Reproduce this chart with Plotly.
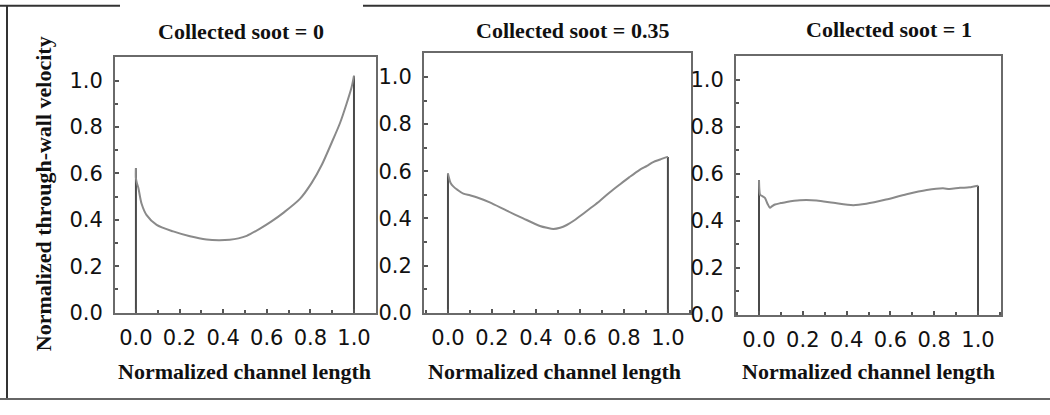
import plotly.graph_objects as go

W, H = 1050, 415

# ---- data ----
x_soot0 = [0.0, 0.0, 0.004, 0.011, 0.026, 0.049, 0.095, 0.171, 0.248, 0.324, 0.38, 0.43, 0.47, 0.508, 0.569, 0.62, 0.676, 0.752, 0.806, 0.852, 0.898, 0.936, 0.966, 0.989, 1.0]
y_soot0 = [0.622, 0.58, 0.56, 0.538, 0.469, 0.42, 0.378, 0.35, 0.329, 0.315, 0.312, 0.314, 0.32, 0.331, 0.362, 0.392, 0.43, 0.49, 0.559, 0.636, 0.733, 0.817, 0.90, 0.971, 1.02]

x_soot035 = [0.0, 0.004, 0.012, 0.024, 0.045, 0.07, 0.10, 0.13, 0.19, 0.267, 0.342, 0.418, 0.45, 0.479, 0.51, 0.54, 0.575, 0.615, 0.65, 0.69, 0.735, 0.78, 0.825, 0.87, 0.905, 0.933, 0.965, 0.994, 1.0]
y_soot035 = [0.59, 0.575, 0.55, 0.536, 0.52, 0.505, 0.498, 0.49, 0.468, 0.433, 0.40, 0.368, 0.36, 0.355, 0.36, 0.372, 0.392, 0.42, 0.445, 0.474, 0.51, 0.543, 0.575, 0.605, 0.623, 0.639, 0.65, 0.66, 0.66]

x_soot1 = [0.0, 0.002, 0.005, 0.015, 0.027, 0.04, 0.05, 0.06, 0.073, 0.10, 0.126, 0.187, 0.263, 0.34, 0.43, 0.49, 0.58, 0.674, 0.766, 0.84, 0.87, 0.918, 0.96, 1.0]
y_soot1 = [0.572, 0.53, 0.51, 0.505, 0.497, 0.47, 0.455, 0.462, 0.469, 0.475, 0.48, 0.487, 0.486, 0.476, 0.466, 0.472, 0.49, 0.513, 0.531, 0.538, 0.535, 0.54, 0.542, 0.549]

panel_titles = ["Collected soot = 0", "Collected soot = 0.35", "Collected soot = 1"]
x_title = "Normalized channel length"
y_title = "Normalized through-wall velocity"
tick_vals = [0.0, 0.2, 0.4, 0.6, 0.8, 1.0]
tick_text = ["0.0", "0.2", "0.4", "0.6", "0.8", "1.0"]

# ---- layout geometry (pixels) ----
panels = [
    dict(x=(115, 376), y=(59, 322), xr=(-0.096, 1.101), title_c=(241, 32), xt_c=(244, 383)),
    dict(x=(424, 691), y=(55, 322), xr=(-0.109, 1.105), title_c=(572, 31), xt_c=(554, 383)),
    dict(x=(736, 1001), y=(58, 324), xr=(-0.105, 1.105), title_c=(889, 30), xt_c=(868, 383)),
]
series = [(x_soot0, y_soot0), (x_soot035, y_soot035), (x_soot1, y_soot1)]

fig = go.Figure()
curve_col = "#8a8a8a"
wall_col = "#4a4a4a"
frame_col = "#6a6a6a"
serif = "Liberation Serif, Times New Roman, serif"
sans = "DejaVu Sans, Arial, sans-serif"

for i, (p, (xs, ys)) in enumerate(zip(panels, series)):
    ax = "" if i == 0 else str(i + 1)
    # wall lines (vertical edges at channel inlet and end)
    fig.add_trace(go.Scatter(
        x=[xs[0], xs[0], None, xs[-1], xs[-1]],
        y=[0, ys[0], None, ys[-1], 0],
        mode="lines", line=dict(color=wall_col, width=2),
        xaxis="x" + ax, yaxis="y" + ax, showlegend=False, hoverinfo="skip"))
    fig.add_trace(go.Scatter(
        x=xs, y=ys, mode="lines", line=dict(color=curve_col, width=2, shape="spline", smoothing=0.8),
        xaxis="x" + ax, yaxis="y" + ax, showlegend=False))

    axis_common = dict(
        showline=True, mirror=True, linecolor=frame_col, linewidth=2,
        showgrid=False, zeroline=False,
        ticks="inside", ticklen=4, tickwidth=2, tickcolor="#555",
        tickvals=tick_vals, ticktext=tick_text,
        tickfont=dict(family=sans, size=21, color="#111"),
        minor=dict(dtick=0.1, tick0=0, ticks="inside", ticklen=3, tickwidth=2, tickcolor="#555"),
        fixedrange=True,
    )
    fig.layout["xaxis" + ax] = dict(
        axis_common, domain=[p["x"][0] / W, p["x"][1] / W], range=list(p["xr"]),
        anchor="y" + ax, ticklabelstandoff=5)
    fig.layout["yaxis" + ax] = dict(
        axis_common, domain=[1 - p["y"][1] / H, 1 - p["y"][0] / H], range=[0, 1.1],
        anchor="x" + ax, ticklabelstandoff=6)

    fig.add_annotation(text="<b>%s</b>" % panel_titles[i], xref="paper", yref="paper",
                       x=p["title_c"][0] / W, y=1 - p["title_c"][1] / H,
                       xanchor="center", yanchor="middle", showarrow=False,
                       font=dict(family=serif, size=22, color="#111"))
    fig.add_annotation(text="<b>%s</b>" % x_title, xref="paper", yref="paper",
                       x=p["xt_c"][0] / W, y=1 - p["xt_c"][1] / H,
                       xanchor="center", yanchor="middle", showarrow=False,
                       font=dict(family=serif, size=22, color="#111"))

fig.add_annotation(text="<b>%s</b>" % y_title, xref="paper", yref="paper",
                   x=43 / W, y=1 - 200 / H, textangle=-90,
                   xanchor="center", yanchor="middle", showarrow=False,
                   font=dict(family=serif, size=22, color="#111"))

# outer border lines
border = dict(color="#333", width=2)
fig.add_shape(type="line", xref="paper", yref="paper", x0=7 / W, x1=7 / W, y0=1 - 412 / H, y1=1 - 6 / H, line=border)
fig.add_shape(type="line", xref="paper", yref="paper", x0=0, x1=120 / W, y0=1 - 6 / H, y1=1 - 6 / H, line=border)
fig.add_shape(type="line", xref="paper", yref="paper", x0=363 / W, x1=1, y0=1 - 6 / H, y1=1 - 6 / H, line=border)
fig.add_shape(type="line", xref="paper", yref="paper", x0=0, x1=1, y0=1 - 411 / H, y1=1 - 411 / H, line=dict(color="#666", width=2))

fig.update_layout(
    width=W, height=H, margin=dict(l=0, r=0, t=0, b=0),
    paper_bgcolor="white", plot_bgcolor="white", showlegend=False,
)

fig.write_html("out.html", config={"displayModeBar": False})
